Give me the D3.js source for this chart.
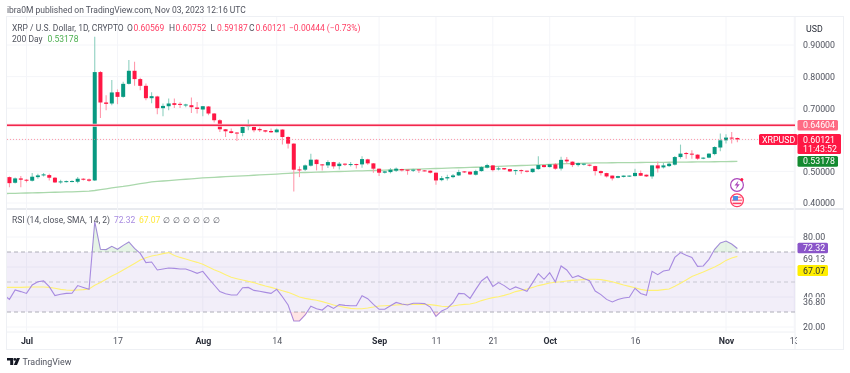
<!DOCTYPE html>
<html><head><meta charset="utf-8">
<script src="https://cdn.jsdelivr.net/npm/d3@7"></script>
<style>
html,body{margin:0;padding:0;background:#fff;width:850px;height:373px;overflow:hidden}
svg{display:block;filter:blur(0.3px)}
text{font-family:Roboto,"Liberation Sans",sans-serif}
.axis path,.axis line{display:none}
</style></head><body>
<svg id="c" width="850" height="373"></svg>
<script>
// Days are counted from 1 Jul 2023; the first candle (-4) lies just off the left edge.
const firstDay = -4;
const opens = [.4850,
.4819,.4641,.4778,.4737,.4705,.4819,.4873,.4883,.4800,.4660,
.4673,.4670,.4673,.4768,.4746,.4714,.8143,.7181,.7149,.7508,
.7359,.7771,.8184,.7921,.7708,.7317,.7371,.7000,.7063,.7159,
.7137,.7086,.7095,.7022,.6959,.7054,.6832,.6619,.6333,.6270,
.6229,.6216,.6419,.6406,.6343,.6302,.6279,.6238,.6324,.6089,
.5879,.5063,.5054,.5181,.5371,.5222,.5190,.5295,.5168,.5244,
.5213,.5232,.5222,.5381,.5254,.5086,.4959,.4978,.5022,.5073,
.5054,.5022,.5063,.5032,.5022,.4959,.4724,.4778,.4819,.4873,
.5000,.4991,.4895,.5010,.5117,.5190,.5063,.5105,.5073,.5016,
.5041,.5022,.4978,.5073,.5200,.5137,.5222,.5089,.5371,.5308,
.5200,.5213,.5213,.5168,.5010,.4946,.4867,.4797,.4826,.4841,
.4851,.4946,.4895,.4841,.5190,.5127,.5168,.5213,.5454,.5581,
.5562,.5530,.5403,.5435,.5549,.5756,.5984,.6070,.60569];
const highs = [.4880,
.4841,.4810,.4851,.4756,.4946,.4927,.4946,.4927,.4819,.4737,
.4714,.4720,.4819,.4787,.4778,.9263,.8175,.7413,.7889,.7594,
.7835,.8524,.8470,.7962,.7778,.7508,.7397,.7149,.7308,.7308,
.7190,.7143,.7340,.7200,.7065,.7070,.6851,.6651,.6343,.6356,
.6248,.6460,.6641,.6438,.6387,.6311,.6356,.6356,.6333,.6111,
.5889,.5159,.5222,.5562,.5381,.5238,.5349,.5308,.5295,.5254,
.5295,.5244,.5476,.5403,.5263,.5095,.5022,.5105,.5127,.5086,
.5063,.5086,.5073,.5041,.5032,.4968,.4851,.4895,.4914,.5054,
.5016,.5000,.5054,.5168,.5244,.5200,.5168,.5111,.5086,.5054,
.5063,.5032,.5095,.5476,.5213,.5232,.5263,.5467,.5454,.5317,
.5279,.5263,.5222,.5181,.5032,.4959,.4873,.4860,.4873,.4873,
.5086,.5032,.4905,.5190,.5317,.5270,.5295,.5486,.5848,.5613,
.5667,.5540,.5444,.5571,.5794,.6197,.6175,.6248,.60752];
const lows = [.4780,
.4501,.4619,.4501,.4651,.4683,.4768,.4841,.4714,.4635,.4610,
.4651,.4655,.4628,.4714,.4673,.4698,.6692,.6937,.7095,.7127,
.7327,.7752,.7708,.7571,.7254,.7159,.6810,.6746,.6937,.7010,
.7010,.7032,.6851,.6832,.6746,.6778,.6546,.6248,.6089,.6197,
.5962,.6111,.6302,.6238,.6248,.6229,.6216,.6229,.5848,.5721,
.4365,.4819,.5010,.5159,.5032,.5032,.5105,.5086,.5063,.5168,
.5159,.5095,.5117,.5213,.4959,.4851,.4937,.4937,.4978,.5000,
.4895,.4978,.4946,.5000,.4937,.4578,.4692,.4714,.4787,.4851,
.4952,.4889,.4873,.4991,.5095,.5000,.5032,.5048,.4978,.4895,
.4927,.4968,.4959,.5054,.5127,.5127,.5054,.5032,.5244,.5137,
.5159,.5190,.5159,.4873,.4873,.4810,.4714,.4787,.4810,.4825,
.4841,.4851,.4825,.4768,.4968,.5095,.5143,.5190,.5403,.5403,
.5403,.5365,.5381,.5413,.5508,.5635,.5879,.5879,.59187];
const closes = [.4819,
.4628,.4778,.4737,.4705,.4832,.4873,.4905,.4800,.4651,.4683,
.4692,.4695,.4768,.4737,.4705,.8143,.7181,.7137,.7498,.7359,
.7771,.8184,.7921,.7708,.7317,.7381,.7000,.7073,.7149,.7105,
.7105,.7117,.7032,.6978,.7063,.6832,.6619,.6333,.6270,.6216,
.6206,.6406,.6438,.6302,.6302,.6260,.6238,.6324,.6089,.5879,
.5054,.5041,.5190,.5371,.5232,.5200,.5295,.5159,.5244,.5213,
.5232,.5213,.5390,.5254,.5086,.4959,.5000,.5054,.5086,.5032,
.5022,.5054,.5032,.5010,.4959,.4714,.4787,.4819,.4873,.4978,
.4968,.4905,.5010,.5137,.5200,.5041,.5095,.5063,.5000,.5041,
.5010,.4991,.5086,.5200,.5137,.5222,.5086,.5365,.5317,.5200,
.5263,.5244,.5181,.5010,.4946,.4841,.4778,.4851,.4867,.4867,
.4952,.4864,.4841,.5190,.5095,.5190,.5244,.5454,.5562,.5549,
.5530,.5403,.5435,.5562,.5771,.5984,.6070,.6057,.60121];
const ma200 = [.4298,
.4302,.4306,.4311,.4316,.4320,.4325,.4330,.4335,.4340,.4345,.4350,.4355,.4360,.4366,.4375,
.4395,.4420,.4448,.4476,.4500,.4524,
.4553,.4582,.4611,.4640,.4667,
.4682,.4696,.4710,.4724,.4738,.4752,.4766,.4780,.4794,
.4804,.4813,.4823,.4832,.4842,.4851,
.4860,.4869,.4878,.4887,.4896,.4905,
.4916,.4927,.4938,.4949,.4959,
.4965,.4970,.4975,.4981,.4986,.4992,.4997,.5003,.5008,.5014,.5019,.5025,.5028,.5032,
.5038,.5044,.5050,.5056,.5062,.5068,.5074,.5080,.5086,.5092,.5098,.5104,.5110,.5116,.5122,.5127,.5132,.5137,
.5144,.5151,.5158,.5165,.5172,.5179,.5186,.5193,.5200,.5207,.5214,.5221,.5230,.5238,
.5243,.5248,.5253,.5258,.5262,.5267,
.5269,.5271,.5273,.5275,.5277,.5279,.5280,.5282,.5283,.5285,.5286,
.5288,.5290,.5292,.5294,.5296,.5298,.5300,.5302,.5304,.5306,.5308,.5311,.5314,.53178];
const rsi = [41.3,
38.4,44.7,43.6,42.4,48,50.2,50.7,46.9,40.9,41.8,
42.4,42.5,47.6,46.4,45.1,90.2,71.8,71.6,73.8,71.8,
74.4,76.7,72.4,69.1,62.9,63.3,58,58.7,59.3,59.1,
58.7,58.7,57.3,55.8,57.1,52.4,48,43.6,42.2,41.3,
41.3,46.2,46.4,44.4,43.8,43.1,42.4,45.1,40.2,34.7,
24,24,28,33.8,32.2,31.3,34.4,32.4,34.9,34.4,
34.2,34.2,40.9,38.9,35.1,31.8,31.8,34.2,36.4,35.3,
34.7,35.8,35.8,35.6,33.3,27.1,30.7,32.4,36.2,42.4,
42.2,39.1,45.1,50.7,53.6,47.1,49.6,47.6,44.9,46.7,
45.3,43.8,49.6,55.6,51.8,56.2,50,60.7,58,52.9,
54.2,52.4,50.9,44,41.6,38.4,36.7,38.4,39.3,39.8,
45.8,42.4,41.1,57.1,54.9,57.3,58,66.4,69.6,67.8,
66.4,60.4,60.7,65.1,71.8,76,77.3,75.3,72.32];
const rsiSma = [46.4,
46.4,46.4,46.4,46.6,46.7,46.7,46.7,46.4,45.8,45.1,
44.7,44.4,44.7,44.9,45.3,47.8,49.6,51.8,54,55.8,
58,60.2,62.4,64.7,66.2,67.3,68,68.9,69.6,67.6,
66.4,65.3,64.2,63.1,61.8,60,58.2,56.7,54.9,53.1,
52.2,51.3,50.4,49.6,48.4,47.3,46.4,45.3,44.2,43.1,
41.6,40,39.1,38.4,37.8,36.9,35.8,34.7,33.8,33.1,
32.4,32.2,32.2,32.7,33.3,34,34.2,34.4,34.7,34.9,
35.1,35.1,35.1,35.1,34.9,34.4,33.8,33.6,34,34.7,
35.1,35.3,36.2,37.6,38.7,39.6,40.2,41.1,42.2,43.6,
44.4,45.3,46.4,47.6,48.4,49.3,49.8,50.2,50.7,51.1,
51.3,51.6,51.8,51.8,51.6,50.9,50.2,49.1,48,47.1,
46.2,45.1,44.4,44.4,44.4,44.9,45.3,47.1,49.1,51.3,
53.6,55.1,56.7,58.4,60,62,64.4,66,67.07];
const timeTickDays = [0,16,31,44,62,72,82,92,107,123,135];
const timeTickLabels = ["Jul","17","Aug","14","Sep","11","21","Oct","16","Nov","13"];
const boldTicks = ["Jul","Aug","Sep","Oct","Nov"];
const priceTicks = [0.4,0.5,0.6,0.7,0.8,0.9];
const priceTickLabels = [0.4,0.5,0.7,0.8,0.9];
const rsiGrid = [20,40,60,80];
const rsiTickLabels = [80,20];
const rsiBands = [70,50,30];
const resistance = 0.64604, lastPrice = 0.60121, lastMa = 0.53178, lastRsi = 72.32, lastSma = 67.07;

const C = {green:"#089981",red:"#ff1744",grid:"#f4f5f9",border:"#eef0f4",text:"#50535e",ma:"#aad8ac",purple:"#a88be0",yellow:"#fff176"};
const L=7,R=795,OR=843,T=17,P=209,RB=332,B=349;
const x = d3.scaleLinear().domain([0,123]).range([26.5,726]);
const y = d3.scaleLinear().domain([0.4,0.9]).range([203,45]);
const yr = d3.scaleLinear().domain([20,80]).range([327,237]);
const svg = d3.select("#c");
const defs = svg.append("defs");
const clip=(id,x0,y0,w,h)=>defs.append("clipPath").attr("id",id).append("rect").attr("x",x0).attr("y",y0).attr("width",w).attr("height",h);
clip("cp",L,T,R-L,P-T); clip("cr",L,P,R-L,RB-P); clip("ca",L,yr(100),R-L,yr(70)-yr(100)); clip("cb",L,yr(30),R-L,RB-yr(30));
clip("ct",L,RB,R-L+2,B-RB);

const days = opens.map((_,i)=>i+firstDay);

// frame
svg.append("rect").attr("x",L-.5).attr("y",T-.5).attr("width",OR-L+1).attr("height",B-T+1).attr("fill","none").attr("stroke",C.border);
svg.append("line").attr("x1",R).attr("x2",R).attr("y1",T).attr("y2",B).attr("stroke",C.border);
svg.append("line").attr("x1",L).attr("x2",OR).attr("y1",P).attr("y2",P).attr("stroke","#e8eaef").attr("stroke-width",2);
svg.append("line").attr("x1",L).attr("x2",R).attr("y1",RB).attr("y2",RB).attr("stroke",C.border);

// grids
const gp = svg.append("g").attr("clip-path","url(#cp)");
gp.selectAll(".h").data(priceTicks).join("line").attr("x1",L).attr("x2",R).attr("y1",d=>y(d)).attr("y2",d=>y(d)).attr("stroke",C.grid);
gp.selectAll(".v").data(timeTickDays).join("line").attr("x1",d=>x(d)).attr("x2",d=>x(d)).attr("y1",T).attr("y2",P).attr("stroke",C.grid);
const gr = svg.append("g").attr("clip-path","url(#cr)");
gr.selectAll(".h").data(rsiGrid).join("line").attr("x1",L).attr("x2",R).attr("y1",d=>yr(d)).attr("y2",d=>yr(d)).attr("stroke",C.grid);
gr.selectAll(".v").data(timeTickDays).join("line").attr("x1",d=>x(d)).attr("x2",d=>x(d)).attr("y1",P).attr("y2",RB).attr("stroke",C.grid);

// MA
const line=(f,s)=>d3.line().x((_,i)=>x(days[i])).y(d=>s(d));
gp.append("path").attr("d",line(0,y)(ma200)).attr("fill","none").attr("stroke",C.ma).attr("stroke-width",1.3);

// candles
const isUp=i=>closes[i]>=opens[i];
gp.selectAll(".w").data(days).join("line").attr("x1",d=>x(d)).attr("x2",d=>x(d))
 .attr("y1",(d,i)=>y(highs[i])).attr("y2",(d,i)=>y(lows[i]))
 .attr("stroke",(d,i)=>isUp(i)?"#8fd0c0":"#ff9aad").attr("stroke-width",1.1);
gp.selectAll(".b").data(days).join("rect").attr("x",d=>x(d)-2).attr("width",4)
 .attr("y",(d,i)=>y(Math.max(opens[i],closes[i])))
 .attr("height",(d,i)=>Math.max(1,Math.abs(y(opens[i])-y(closes[i]))))
 .attr("fill",(d,i)=>isUp(i)?C.green:C.red);

// levels
svg.append("line").attr("x1",L).attr("x2",R).attr("y1",y(resistance)).attr("y2",y(resistance)).attr("stroke","#ffd6dd").attr("stroke-width",2.8);
svg.append("line").attr("x1",L).attr("x2",R).attr("y1",y(resistance)).attr("y2",y(resistance)).attr("stroke","#f2274d").attr("stroke-width",1.3);
svg.append("line").attr("x1",L).attr("x2",R).attr("y1",y(lastPrice)).attr("y2",y(lastPrice)).attr("stroke","#ff6f86").attr("stroke-width",1).attr("stroke-dasharray","1 2").attr("opacity",.7);

// RSI pane
gr.append("rect").attr("x",L).attr("width",R-L).attr("y",yr(70)).attr("height",yr(30)-yr(70)).attr("fill","rgba(126,87,194,0.1)");
rsiBands.forEach((b,i)=>gr.append("line").attr("x1",L).attr("x2",R).attr("y1",yr(b)).attr("y2",yr(b)).attr("stroke",i==1?"#c9c9d2":"#aeaeb8").attr("stroke-dasharray","4 3"));
const area=d3.area().x((_,i)=>x(days[i])).y0(yr(70)).y1(d=>yr(d));
svg.append("path").attr("d",area(rsi)).attr("fill","rgba(76,175,80,0.14)").attr("clip-path","url(#ca)");
const areaLow=d3.area().x((_,i)=>x(days[i])).y0(yr(30)).y1(d=>yr(d));
svg.append("path").attr("d",areaLow(rsi)).attr("fill","rgba(255,82,82,0.15)").attr("clip-path","url(#cb)");
gr.append("path").attr("d",line(0,yr)(rsiSma)).attr("fill","none").attr("stroke",C.yellow).attr("stroke-width",1.1);
gr.append("path").attr("d",line(0,yr)(rsi)).attr("fill","none").attr("stroke",C.purple).attr("stroke-width",1.1);

// axes
const fs=8.8, ls=8.5;
const styleAxis=g=>g.call(s=>s.select(".domain").remove()).selectAll("text").attr("font-size",fs).attr("fill",C.text).attr("font-family","Roboto,sans-serif");
svg.append("g").attr("class","axis").attr("transform",`translate(${R},0)`)
 .call(d3.axisRight(y).tickValues(priceTickLabels).tickFormat(d3.format(".5f")).tickSize(0).tickPadding(8)).call(styleAxis);
svg.append("g").attr("class","axis").attr("transform",`translate(${R},0)`)
 .call(d3.axisRight(yr).tickValues(rsiTickLabels).tickFormat(d3.format(".2f")).tickSize(0).tickPadding(8)).call(styleAxis);
const tx=svg.append("g").attr("class","axis").attr("clip-path","url(#ct)");
tx.append("g").attr("transform",`translate(0,${RB})`)
 .call(d3.axisBottom(x).tickValues(timeTickDays).tickFormat((d,i)=>timeTickLabels[i]).tickSize(0).tickPadding(6))
 .call(styleAxis);
tx.selectAll("text").attr("font-weight",function(){return boldTicks.includes(this.textContent)?700:400}).attr("fill",function(){return boldTicks.includes(this.textContent)?"#2a2e39":C.text});

// helpers
const txt=(s,px,py,o={})=>svg.append("text").attr("x",px).attr("y",py).attr("font-size",o.size||fs).attr("fill",o.fill||C.text).attr("text-anchor",o.anchor||"start").attr("font-weight",o.weight||400).text(s);
const tag=(x0,y0,w,h,f)=>svg.append("rect").attr("x",x0).attr("y",y0).attr("width",w).attr("height",h).attr("rx",1.5).attr("fill",f);

// RSI plain labels; 40.00 sits almost hidden behind 36.80 as in the source
txt("40.00",803,yr(40)+3.2);
svg.append("rect").attr("x",800).attr("y",yr(36.8)-4.6).attr("width",36).attr("height",10).attr("fill","#fff");
txt("36.80",803,yr(36.8)+3.2);
txt("69.13",803,262.4);

// tags
tag(797.5,120,40.5,10.5,"#ff6b84");
txt("0.64604",803,128.4,{fill:"#fff"});
tag(759,134,38.5,11,C.red);
txt("XRPUSD",762,142.6,{fill:"#fff"});
tag(797.5,134,43.5,20,C.red);
txt("0.60121",803,142.6,{fill:"#fff"});
txt("11:43:52",803,151.6,{fill:"#fff"});
tag(797.5,156,40.5,10.7,"#138a30");
txt("0.53178",803,164.4,{fill:"#fff"});
tag(797.5,242.7,30.5,10.6,"#8a55c9");
txt("72.32",803,251.2,{fill:"#fff"});
tag(797.5,265,30.5,11,"#ffee00");
txt("67.07",803,273.7,{fill:"#2a2e39"});

// header & legends
const hs={size:ls};
txt("ibra0M published on TradingView.com, Nov 03, 2023 12:16 UTC",7,13.2,hs);
txt("XRP / U.S. Dollar, 1D, CRYPTO",12,31.4,hs);
const lg=[["O","0.60569",127],["H","0.60752",169],["L","0.59187",210.5],["C","0.60121",249]];
lg.forEach(([a,b,p])=>{txt(a,p,31.4,hs);txt(b,p+6.4,31.4,{size:ls,fill:"#ff3d63"});});
txt("−0.00444 (−0.73%)",289,31.4,{size:ls,fill:"#ff3d63"});
txt("USD",806,32,{fill:"#2a2e39"});
txt("200 Day",12,42.2,hs);
txt("0.53178",47.5,42.2,{size:ls,fill:"#4caf50"});
txt("RSI (14, close, SMA, 14, 2)",12,223.2,hs);
txt("72.32",114,223.2,{size:ls,fill:C.purple});
txt("67.07",139,223.2,{size:ls,fill:"#ffe93b"});
[166,176,186,196,206,216].forEach(p=>txt("∅",p,223,{size:7.5,fill:"#50535e",anchor:"middle"}));

// event icons
const ic=svg.append("g");
ic.append("circle").attr("cx",737).attr("cy",185).attr("r",6.4).attr("fill","#fff").attr("stroke","#ab47bc").attr("stroke-width",1.2);
ic.append("path").attr("d","M738.5 180.5L734.5 185.6H737L735.6 189.5L739.8 184.2H737.3Z").attr("fill","#ab47bc");
ic.append("circle").attr("cx",741.8).attr("cy",179.5).attr("r",1.5).attr("fill","#ff1744");
ic.append("circle").attr("cx",737).attr("cy",200.3).attr("r",6.4).attr("fill","#fff").attr("stroke","#ff3d63").attr("stroke-width",1.2);
ic.append("rect").attr("x",732.5).attr("y",196.5).attr("width",9).attr("height",1.6).attr("fill","#ff7a8f");
ic.append("rect").attr("x",731.7).attr("y",199.5).attr("width",10.6).attr("height",1.6).attr("fill","#ff7a8f");
ic.append("rect").attr("x",732.5).attr("y",202.6).attr("width",9).attr("height",1.6).attr("fill","#ff3d63");
ic.append("rect").attr("x",733).attr("y",196).attr("width",5).attr("height",4.5).attr("fill","#4f8fe6");

// TradingView logo
const lg2=svg.append("g").attr("fill","#131722");
lg2.append("path").attr("d","M7 358H13.2V365H10.2V360.6H7Z");
lg2.append("circle").attr("cx",14.9).attr("cy",359.4).attr("r",1.4);
lg2.append("path").attr("d","M16.8 358H20L17 365H13.8Z");
txt("TradingView",22.5,365,{size:8.9,fill:"#50535e"});
</script>
</body></html>
